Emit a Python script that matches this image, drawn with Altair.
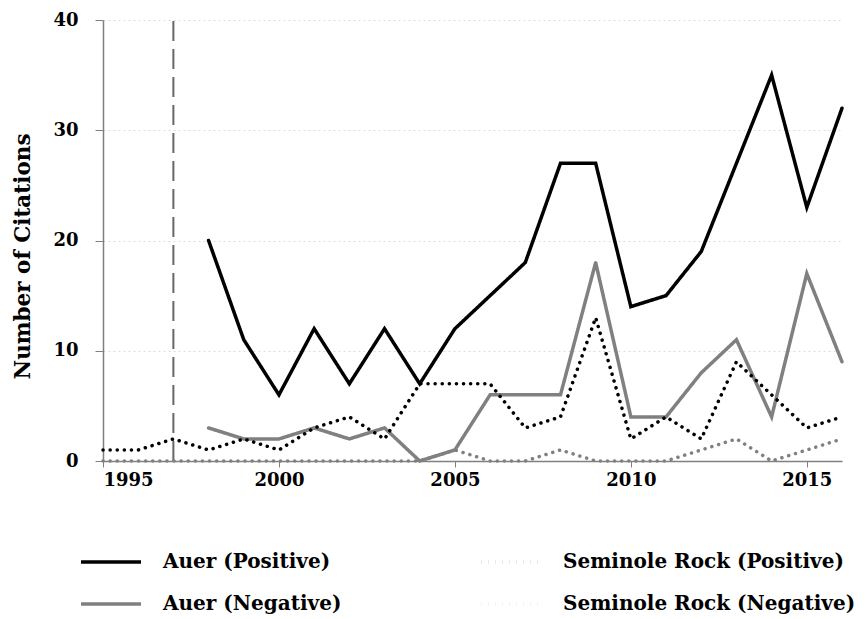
import altair as alt
import pandas as pd

years = list(range(1995, 2017))
auer_pos = [None, None, None, 20, 11, 6, 12, 7, 12, 7, 12, 15, 18, 27, 27, 14, 15, 19, 27, 35, 23, 32]
auer_neg = [None, None, None, 3, 2, 2, 3, 2, 3, 0, 1, 6, 6, 6, 18, 4, 4, 8, 11, 4, 17, 9]
sem_pos = [1, 1, 2, 1, 2, 1, 3, 4, 2, 7, 7, 7, 3, 4, 13, 2, 4, 2, 9, 6, 3, 4]
sem_neg = [0, 0, 0, 0, 0, 0, 0, 0, 0, 0, 1, 0, 0, 1, 0, 0, 0, 1, 2, 0, 1, 2]
series_names = ["Auer (Positive)", "Auer (Negative)", "Seminole Rock (Positive)", "Seminole Rock (Negative)"]
series_values = [auer_pos, auer_neg, sem_pos, sem_neg]
marker_year = [1997]
x_ticks = [1995, 2000, 2005, 2010, 2015]
y_ticks = [0, 10, 20, 30, 40]

rows = []
for name, vals in zip(series_names, series_values):
    for y, v in zip(years, vals):
        if v is not None:
            rows.append({"year": y, "count": v, "series": name})
df = pd.DataFrame(rows)
rule_df = pd.DataFrame({"year": marker_year, "lo": [0], "hi": [40]})

FONT = "DejaVu Serif"

x = alt.X("year:Q", scale=alt.Scale(domain=[1995, 2016], nice=False, zero=False),
          axis=alt.Axis(values=x_ticks, format="d", title=None, grid=False,
                        domainColor="#808080", tickColor="#808080", tickSize=6,
                        labelFontSize=18, labelFont=FONT, labelFontWeight="bold",
                        labelColor="black", labelPadding=4, domainWidth=1.5))
y = alt.Y("count:Q", scale=alt.Scale(domain=[0, 40], nice=False),
          axis=alt.Axis(values=y_ticks, title="Number of Citations", grid=True,
                        gridDash=[2, 3], gridColor="#dcdcdc",
                        domainColor="#808080", tickColor="#808080", tickSize=8,
                        labelFontSize=18, labelFont=FONT, labelFontWeight="bold",
                        labelColor="black", labelPadding=17, domainWidth=1.5,
                        titleFontSize=21.5, titleFont=FONT, titleFontWeight="bold",
                        titleColor="black", titlePadding=18, titleY=236))

legend = alt.Legend(title=None, orient="none", legendX=-24, legendY=510, columns=2,
                    columnPadding=132, rowPadding=0, symbolType="stroke",
                    symbolSize=3600, symbolStrokeWidth=3.5, labelFontSize=20,
                    labelFont=FONT, labelFontWeight="bold", labelColor="black",
                    labelOffset=20, labelLimit=0)

lines = alt.Chart(df).mark_line(strokeWidth=3.5, strokeCap="round").encode(
    x=x, y=y,
    color=alt.Color("series:N", scale=alt.Scale(domain=series_names,
                    range=["black", "#808080", "black", "#808080"]), legend=legend),
    strokeDash=alt.StrokeDash("series:N", scale=alt.Scale(domain=series_names,
                    range=[[1, 0], [1, 0], [0.1, 7], [0.1, 7]]), legend=legend),
    detail="series:N",
)

rule = alt.Chart(rule_df).mark_rule(color="#666666", strokeWidth=2, strokeDash=[20, 8]).encode(
    x="year:Q", y="lo:Q", y2="hi:Q")

chart = alt.layer(rule, lines).properties(
    width=739, height=441,
    autosize=alt.AutoSizeParams(type="none"),
    padding={"left": 95, "top": 12, "right": 15, "bottom": 156},
).configure_view(stroke=None)

chart.save("out.html", embed_options={"renderer": "svg", "actions": False})
